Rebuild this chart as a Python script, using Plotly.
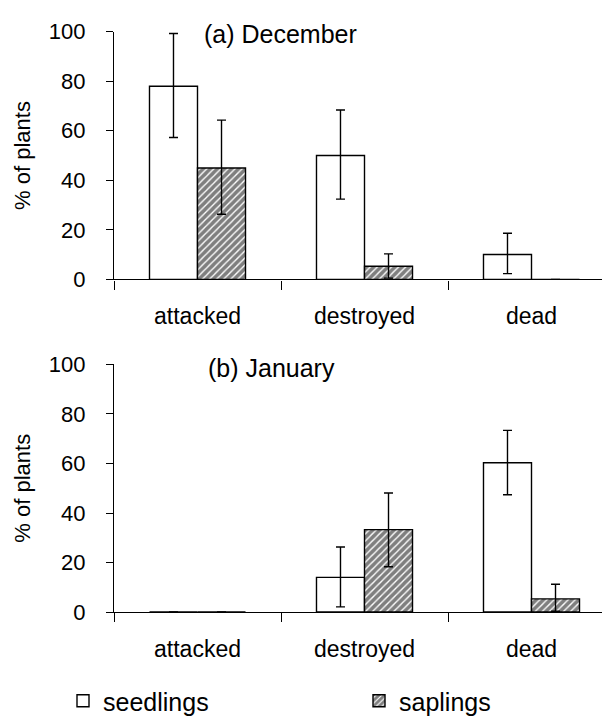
import plotly.graph_objects as go

categories = ["attacked", "destroyed", "dead"]

dec_seedlings = [78, 50, 10]
dec_seedlings_hi = [99.3, 68.4, 18.6]
dec_seedlings_lo = [57.3, 32.4, 2.3]

dec_saplings = [45, 5.3, 0]
dec_saplings_hi = [64.3, 10.3, None]
dec_saplings_lo = [26.3, 0.5, None]

jan_seedlings = [0, 14, 60.3]
jan_seedlings_hi = [None, 26.3, 73.4]
jan_seedlings_lo = [None, 2.1, 47.4]

jan_saplings = [0, 33.3, 5.3]
jan_saplings_hi = [None, 48.1, 11.2]
jan_saplings_lo = [None, 18.3, 0.3]

y_ticks = [0, 20, 40, 60, 80, 100]

FONT = "Liberation Sans, Arial, sans-serif"


def err(vals, hi, lo):
    up = [None if h is None else h - v for v, h in zip(vals, hi)]
    dn = [None if l is None else v - l for v, l in zip(vals, lo)]
    return dict(type="data", symmetric=False, array=up, arrayminus=dn,
                color="black", thickness=1.4, width=4.5)


white_marker = dict(color="white", line=dict(color="black", width=1.4))
hatch_marker = dict(color="white", line=dict(color="black", width=1.4),
                    pattern=dict(shape="/", fgcolor="black", bgcolor="white",
                                 size=5, solidity=0.72, fillmode="overlay"))

fig = go.Figure()
fig.add_trace(go.Bar(x=categories, y=dec_seedlings, name="seedlings",
                     marker=white_marker, error_y=err(dec_seedlings, dec_seedlings_hi, dec_seedlings_lo),
                     xaxis="x", yaxis="y", legend="legend"))
fig.add_trace(go.Bar(x=categories, y=dec_saplings, name="saplings",
                     marker=hatch_marker, error_y=err(dec_saplings, dec_saplings_hi, dec_saplings_lo),
                     xaxis="x", yaxis="y", legend="legend2"))
fig.add_trace(go.Bar(x=categories, y=jan_seedlings, name="seedlings", showlegend=False,
                     marker=white_marker, error_y=err(jan_seedlings, jan_seedlings_hi, jan_seedlings_lo),
                     xaxis="x2", yaxis="y2"))
fig.add_trace(go.Bar(x=categories, y=jan_saplings, name="saplings", showlegend=False,
                     marker=hatch_marker, error_y=err(jan_saplings, jan_saplings_hi, jan_saplings_lo),
                     xaxis="x2", yaxis="y2"))

W, H = 610, 716
xdom = [106 / W, 607 / W]
ytop = [1 - 274 / H, 1 - 24 / H]
ybot = [1 - 610 / H, 1 - 360 / H]

xcommon = dict(type="category", categoryorder="array", categoryarray=categories,
               range=[-0.5, 2.5], showline=True, linecolor="black", linewidth=1.4,
               ticks="outside", ticklen=9, tickwidth=1.4, tickcolor="black",
               tickson="boundaries", showgrid=False, zeroline=False,
               tickfont=dict(family=FONT, size=23, color="black"),
               ticklabelstandoff=16, automargin=False, domain=xdom, fixedrange=True)
ycommon = dict(range=[0, 100], tickvals=y_ticks, showline=True, linecolor="black",
               linewidth=1.4, ticks="outside", ticklen=7, tickwidth=1.4, tickcolor="black",
               showgrid=False, zeroline=False,
               tickfont=dict(family=FONT, size=22, color="black"),
               ticklabelstandoff=16, automargin=False,
               title=dict(text="% of plants", font=dict(family=FONT, size=22, color="black"),
                          standoff=11))

legend_common = dict(orientation="h", xanchor="left", y=1 - 700 / H, yanchor="middle",
                     font=dict(family=FONT, size=25, color="black"),
                     bgcolor="rgba(0,0,0,0)", borderwidth=0)

fig.update_layout(
    width=W, height=H,
    margin=dict(l=0, r=0, t=0, b=0),
    paper_bgcolor="white", plot_bgcolor="white",
    barmode="group", bargap=0.425, bargroupgap=0,
    xaxis=dict(xcommon, anchor="y"),
    yaxis=dict(ycommon, domain=ytop, anchor="x"),
    xaxis2=dict(xcommon, anchor="y2"),
    yaxis2=dict(ycommon, domain=ybot, anchor="x2"),
    showlegend=True,
    legend=dict(legend_common, x=55 / W),
    legend2=dict(legend_common, x=351 / W),
    annotations=[
        dict(text="(a) December", xref="x domain", yref="y domain", x=0.176, y=0.99,
             xanchor="left", yanchor="middle", showarrow=False,
             font=dict(family=FONT, size=25, color="black")),
        dict(text="(b) January", xref="x2 domain", yref="y2 domain", x=0.184, y=0.985,
             xanchor="left", yanchor="middle", showarrow=False,
             font=dict(family=FONT, size=25, color="black")),
    ],
)

fig.write_html("out.html")
